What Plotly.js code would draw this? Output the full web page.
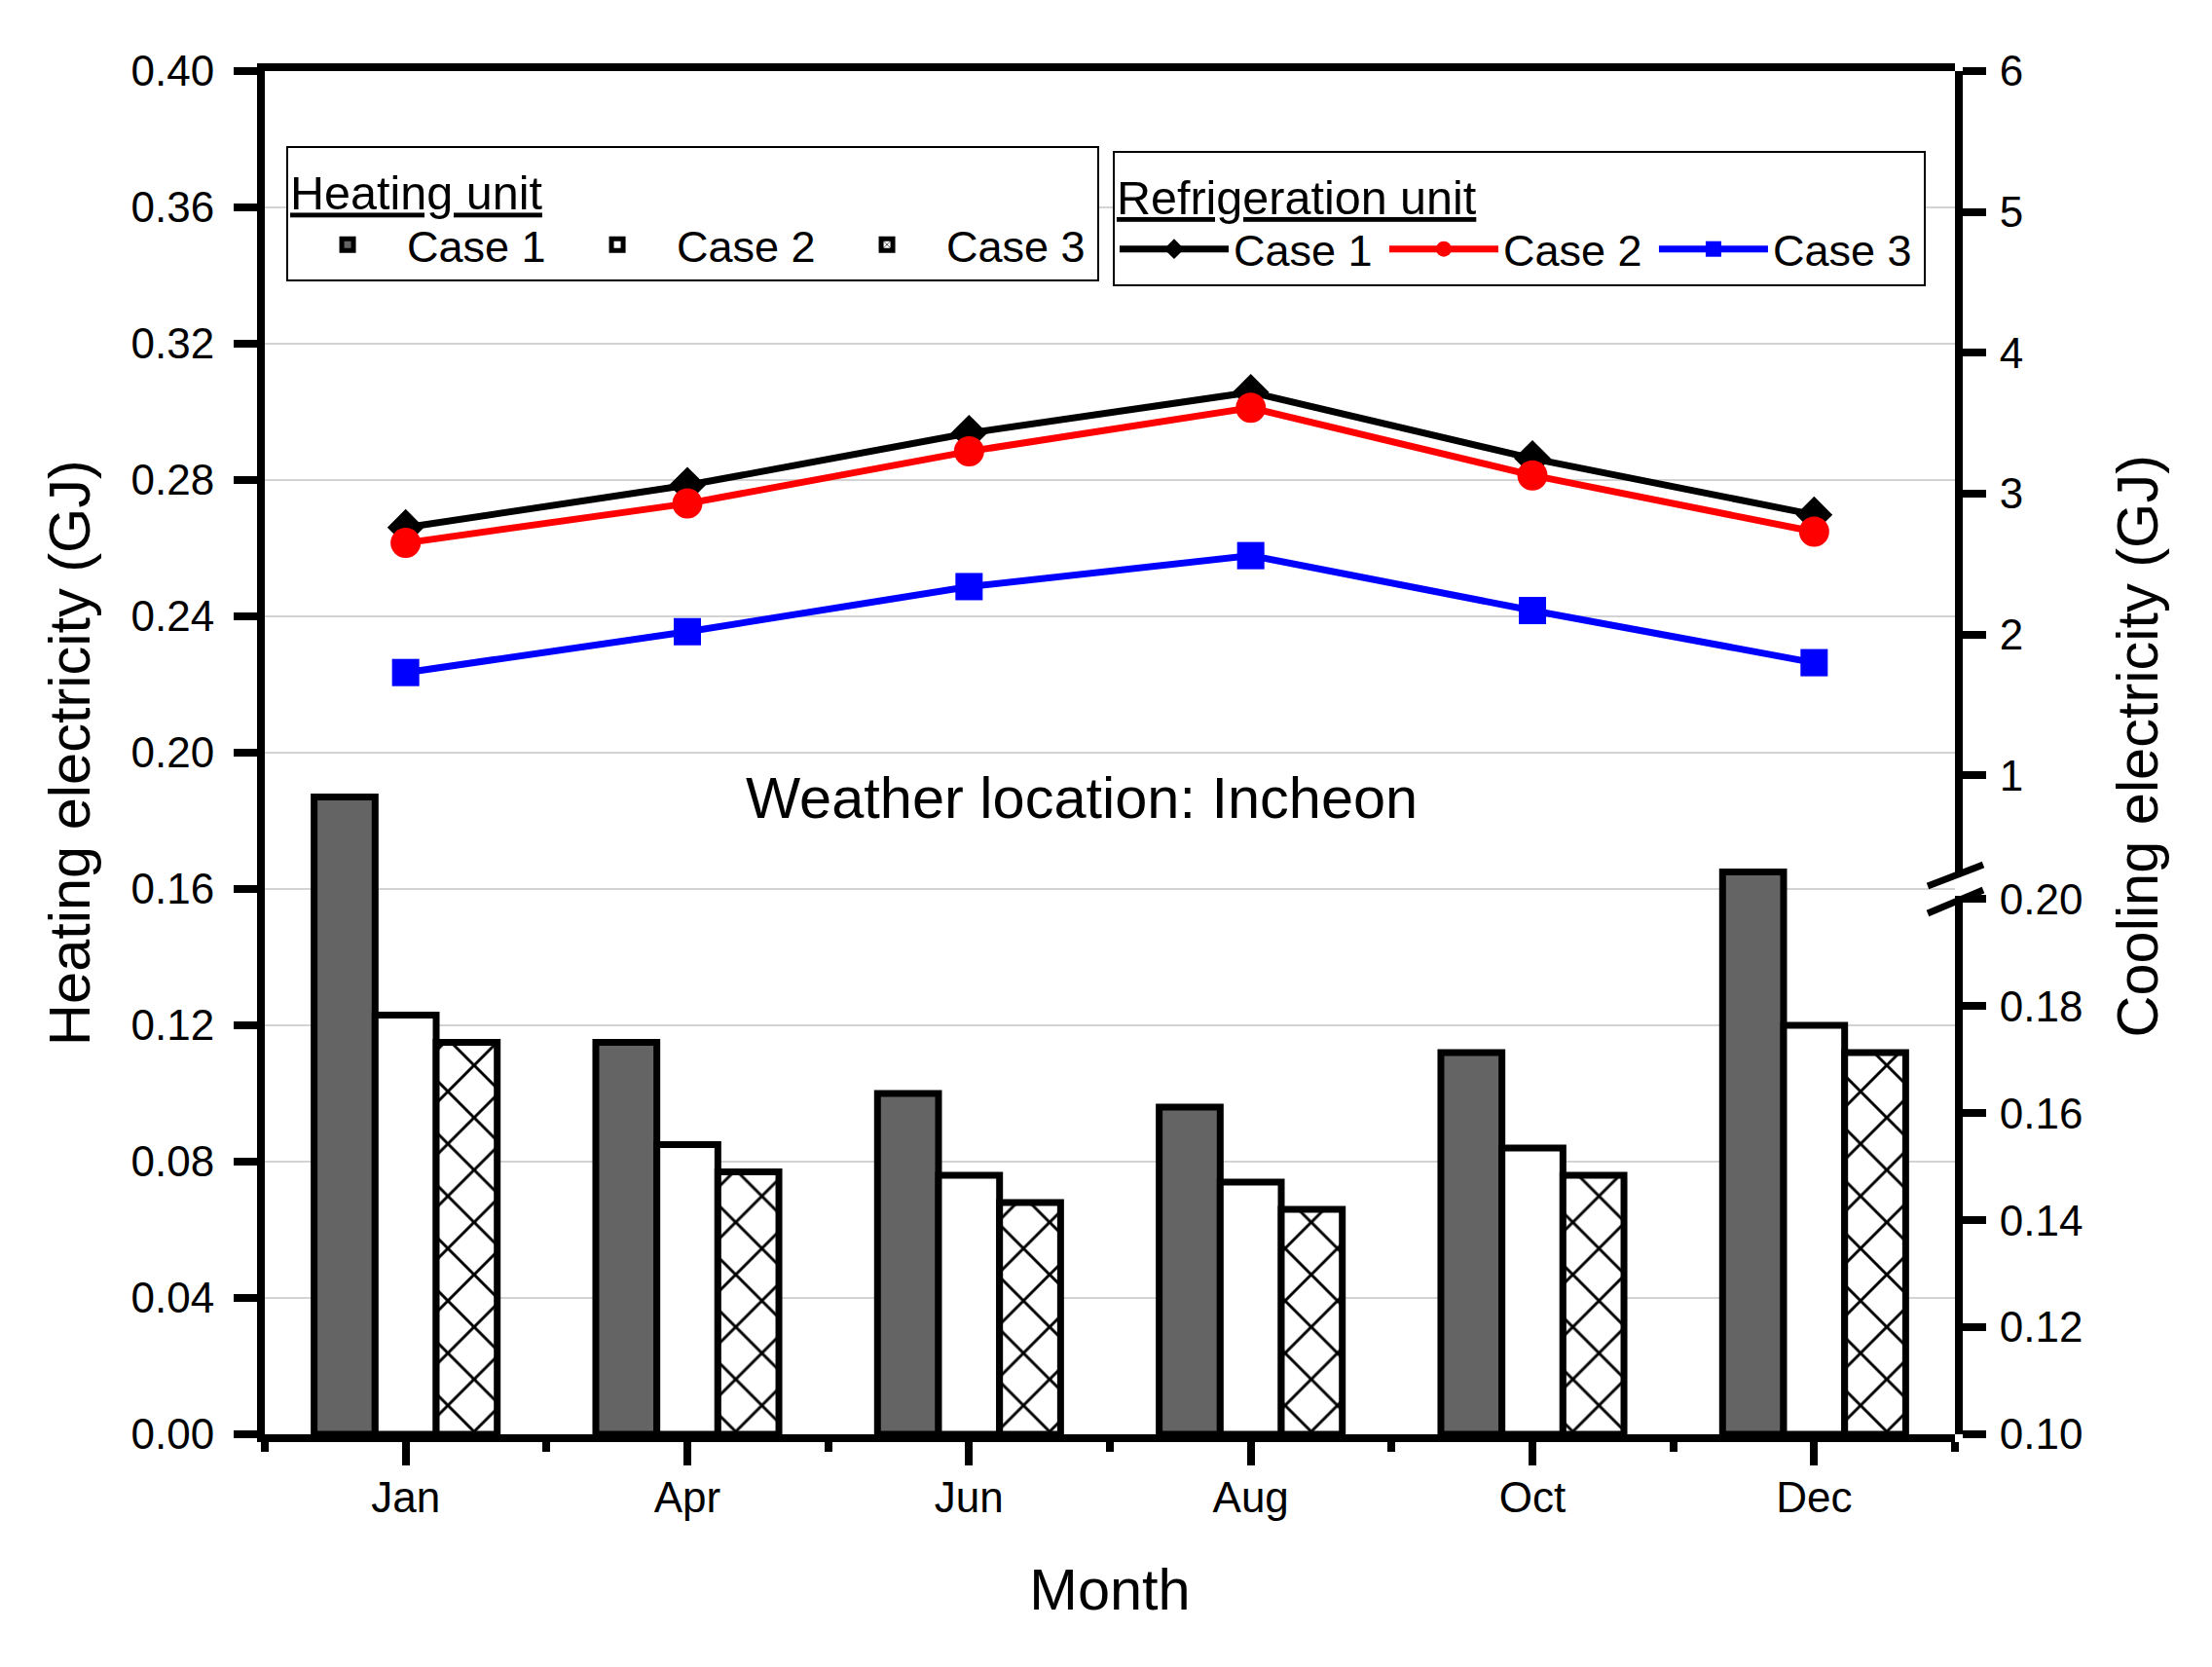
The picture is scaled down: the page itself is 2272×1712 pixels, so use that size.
<!DOCTYPE html>
<html>
<head>
<meta charset="utf-8">
<script src="https://cdn.plot.ly/plotly-3.0.1.min.js"></script>
<style>
  html, body { margin: 0; padding: 0; background: #fff; }
  #chart { width: 2272px; height: 1712px; }
</style>
</head>
<body>
<div id="chart"></div>
<script>
var months = ['Jan', 'Apr', 'Jun', 'Aug', 'Oct', 'Dec'];

// heating unit electricity (GJ), left axis
var heatCase1 = [0.187, 0.115, 0.100, 0.096, 0.112, 0.165];
var heatCase2 = [0.123, 0.085, 0.076, 0.074, 0.084, 0.120];
var heatCase3 = [0.115, 0.077, 0.068, 0.066, 0.076, 0.112];

// refrigeration unit electricity (GJ), right axis (upper part)
var coolCase1 = [2.76, 3.06, 3.43, 3.72, 3.25, 2.85];
var coolCase2 = [2.65, 2.93, 3.30, 3.61, 3.13, 2.73];
var coolCase3 = [1.73, 2.02, 2.34, 2.56, 2.17, 1.80];

var leftTicks = [0, 0.04, 0.08, 0.12, 0.16, 0.20, 0.24, 0.28, 0.32, 0.36, 0.40];
var rightLowTicks = [0.10, 0.12, 0.14, 0.16, 0.18, 0.20];
var rightHighTicks = [1, 2, 3, 4, 5, 6];

var xPos = months.map(function (m, i) { return i; });

var FONT = 'Liberation Sans, Arial, sans-serif';
var TITLE_SIZE = 59.5;
var barLine = { color: '#000', width: 7 };

function barTrace(name, vals, marker) {
  marker.line = barLine;
  return { type: 'bar', name: name, x: xPos, y: vals, marker: marker,
           legend: 'legend', hoverinfo: 'skip' };
}

function lineTrace(name, vals, color, symbol, size) {
  return { type: 'scatter', mode: 'lines+markers', name: name, x: xPos, y: vals,
           yaxis: 'y3', legend: 'legend2', hoverinfo: 'skip',
           line: { color: color, width: 7 },
           marker: { color: color, symbol: symbol, size: size } };
}

var data = [
  barTrace('Case 1', heatCase1, { color: '#646464' }),
  barTrace('Case 2', heatCase2, { color: '#ffffff' }),
  barTrace('Case 3', heatCase3, { color: '#ffffff',
    pattern: { shape: 'x', fgcolor: '#000', bgcolor: '#fff', size: 38, solidity: 0.15 } }),
  lineTrace('Case 1', coolCase1, '#000000', 'diamond', 29),
  lineTrace('Case 2', coolCase2, '#ff0000', 'circle', 31),
  lineTrace('Case 3', coolCase3, '#0000ff', 'square', 28),
  // the cooling series also owns the lower part of the broken right axis;
  // nothing is drawn here, it only makes plotly draw that axis segment
  { type: 'scatter', mode: 'none', x: xPos, y: coolCase1, yaxis: 'y2',
    showlegend: false, hoverinfo: 'skip' }
];

var axisStyle = {
  showline: true, linecolor: '#000', linewidth: 8,
  ticks: 'outside', ticklen: 24, tickwidth: 8, tickcolor: '#000',
  zeroline: false, showgrid: false, tickfont: { size: 44 }
};

function ax(extra) { return Object.assign({}, axisStyle, extra); }

var legendBase = {
  orientation: 'h', xanchor: 'left', yanchor: 'top',
  bgcolor: '#fff', bordercolor: '#000', borderwidth: 2,
  font: { size: 45 }, itemwidth: 112, entrywidth: 150, entrywidthmode: 'pixels',
  itemsizing: 'trace', tracegroupgap: 0
};

var layout = {
  width: 2272, height: 1712,
  margin: { l: 272, r: 264, t: 73, b: 239 },
  paper_bgcolor: '#fff', plot_bgcolor: 'rgba(0,0,0,0)',
  font: { family: FONT, color: '#000', size: 44 },
  barmode: 'group', bargap: 0.35, bargroupgap: 0,
  showlegend: true,
  xaxis: ax({
    range: [-0.5, 5.5], tickvals: xPos, ticktext: months, mirror: true,
    ticklabelstandoff: -5,
    minor: { tickmode: 'linear', tick0: 0.5, dtick: 1, ticks: 'outside',
             ticklen: 10, tickwidth: 8, tickcolor: '#000', showgrid: false },
    title: { text: 'Month', font: { size: TITLE_SIZE }, standoff: 54 }
  }),
  yaxis: ax({
    range: [0, 0.40], tickvals: leftTicks, tickformat: '.2f',
    showgrid: true, gridcolor: '#d3d3d3', gridwidth: 2,
    ticklabelstandoff: 11,
    title: { text: 'Heating electricity (GJ)', font: { size: TITLE_SIZE }, standoff: 26 }
  }),
  yaxis2: ax({
    domain: [0, 0.395], range: [0.10, 0.2006], anchor: 'x', side: 'right',
    tickvals: rightLowTicks, tickformat: '.2f', ticklabelstandoff: 5
  }),
  yaxis3: ax({
    domain: [0.41, 1], range: [0.29, 6], anchor: 'x', side: 'right',
    tickvals: rightHighTicks, ticklabelstandoff: 5
  }),
  legend: Object.assign({}, legendBase, {
    x: 0.0127, y: 0.9447,
    title: { text: '<u>Heating unit</u>', font: { size: 48.5 }, side: 'top' }
  }),
  legend2: Object.assign({}, legendBase, {
    x: 0.5017, y: 0.9415,
    title: { text: '<u>Refrigeration unit</u>', font: { size: 48.5 }, side: 'top' }
  }),
  annotations: [
    { text: 'Weather location: Incheon', xref: 'paper', yref: 'paper',
      x: 0.4833, y: 0.467, xanchor: 'center', yanchor: 'middle',
      showarrow: false, font: { size: TITLE_SIZE } },
    // title of the (broken) right axis, centred on the whole plot height
    { text: 'Cooling electricity (GJ)', xref: 'paper', yref: 'paper',
      x: 1.108, y: 0.505, xanchor: 'center', yanchor: 'middle', textangle: -90,
      showarrow: false, font: { size: TITLE_SIZE } }
  ],
  // axis break marks on the right axis
  shapes: [
    { type: 'line', xref: 'paper', yref: 'paper', xsizemode: 'pixel', ysizemode: 'pixel',
      xanchor: 1, yanchor: 0.4, x0: -28, x1: 29, y0: 3, y1: 25,
      line: { color: '#000', width: 7 }, layer: 'above' },
    { type: 'line', xref: 'paper', yref: 'paper', xsizemode: 'pixel', ysizemode: 'pixel',
      xanchor: 1, yanchor: 0.4, x0: -28, x1: 29, y0: -25, y1: -1,
      line: { color: '#000', width: 7 }, layer: 'above' }
  ]
};

Plotly.newPlot('chart', data, layout, { displayModeBar: false, staticPlot: true });
</script>
</body>
</html>
